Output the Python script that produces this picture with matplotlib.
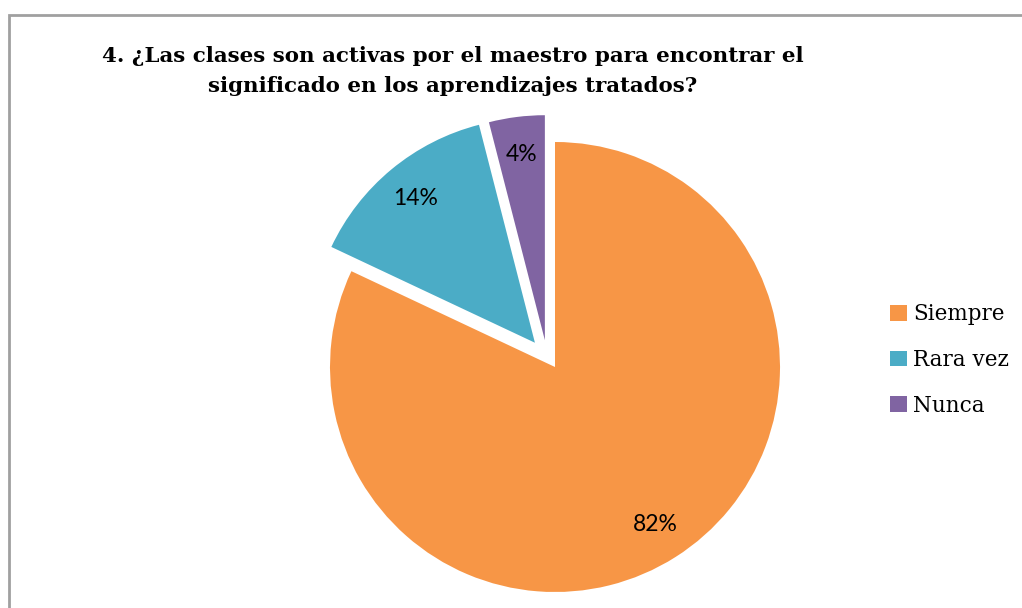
import matplotlib.pyplot as plt
from matplotlib.patches import Rectangle

categories = ['Siempre', 'Rara vez', 'Nunca']
values = [82, 14, 4]
colors = ['#F79646', '#4BACC6', '#8064A2']
explode = [0, 0.14, 0.12]

title = ('4. ¿Las clases son activas por el maestro para encontrar el\n'
         'significado en los aprendizajes tratados?')

W, H = 1022, 608
fig = plt.figure(figsize=(W / 100, H / 100), dpi=100)

# outer chart border (only left and top visible in the crop)
fig.patches.append(Rectangle((9 / W, -0.1), 1.2, (H - 15) / H + 0.1,
                             transform=fig.transFigure, fill=False,
                             edgecolor='#a0a0a0', linewidth=2))

# pie axes: center at (555, 367) px, radius 225 px
cx, cy, r, half = 555, 367, 225, 300
ax = fig.add_axes([(cx - half) / W, (H - cy - half) / H, 2 * half / W, 2 * half / H])
wedges, texts, autotexts = ax.pie(values, colors=colors, explode=explode,
                                  startangle=90, counterclock=False,
                                  autopct='%1.0f%%', pctdistance=0.83,
                                  textprops={'fontsize': 16.5, 'family': 'Lato',
                                             'color': 'black'})
# the small slice sits a bit further left in the original
dx = -0.03
w = wedges[2]
w.set_center((w.center[0] + dx, w.center[1]))
tx, ty = autotexts[2].get_position()
autotexts[2].set_position((tx + dx, ty))

ax.set_xlim(-half / r, half / r)
ax.set_ylim(-half / r, half / r)
ax.set_aspect('auto')

fig.text(453 / W, 1 - 71 / H, title, ha='center', va='center',
         fontsize=15.4, fontweight='bold', family='DejaVu Serif',
         linespacing=1.6)

leg = fig.legend(wedges, categories, loc='center left',
                 bbox_to_anchor=(871 / W, 1 - 360 / H), frameon=False,
                 prop={'family': 'DejaVu Serif', 'size': 15.5},
                 handlelength=0.75, handleheight=0.75, handletextpad=0.3,
                 labelspacing=1.1)

fig.savefig('out.png', dpi=100)
